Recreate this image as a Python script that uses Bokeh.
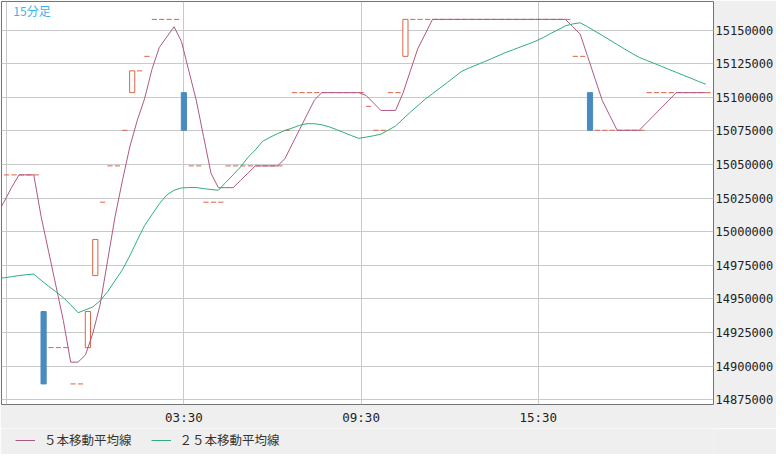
import numpy as np
import pandas as pd
from bokeh.plotting import figure
from bokeh.layouts import column
from bokeh.models import (ColumnDataSource, FixedTicker, Range1d, Legend, LegendItem,
                          Label, BasicTickFormatter)
from bokeh.embed import file_html
from bokeh.resources import INLINE

# ---------------- data (15-minute bars) ----------------
first_bar = "2024-05-20 20:15"

opens = [
    14992300, 14989800, 14995800, 15042300, 15042300,            # warm-up bars (off-screen)
    15042300, 15042300, 15042300, 15042300, 15042300,            # from 21:30
    14940700, 14913800, 14913800, 14913800, 14886800, 14886800,
    14913800, 14967400, 15022000, 15049000, 15049000, 15075500,
    15103500, 15119700, 15130500, 15158000, 15158000, 15158000, 15158000,
    15103500,                                                    # 03:30
    15049000, 15049000, 15022000, 15022000, 15022000,
    15049000, 15049000, 15049000, 15049000, 15049000, 15049000, 15049000, 15049000,
    15075500,
    15103500, 15103500, 15103500, 15103500, 15103500,
    15103500, 15103500, 15103500, 15103500, 15103500,            # .. 09:30
    15093300, 15075500, 15075500, 15103500, 15103500,
    15130500,
    15158000, 15158000, 15158000, 15158000, 15158000, 15158000, 15158000, 15158000,
    15158000, 15158000, 15158000, 15158000, 15158000, 15158000, 15158000, 15158000,
    15158000, 15158000, 15158000, 15158000, 15158000, 15158000,
    15130500, 15130500,
    15103500,
    15075500, 15075500, 15075500, 15075500, 15075500, 15075500, 15075500,
    15103500, 15103500, 15103500, 15103500, 15103500, 15103500, 15103500, 15103500, 15103500,
]

closes = [
    14992300, 14989800, 14995800, 15042300, 15042300,
    15042300, 15042300, 15042300, 15042300, 15042300,
    14886800, 14913800, 14913800, 14913800, 14886800, 14886800,
    14940700, 14994300, 15022000, 15049000, 15049000, 15075500,
    15119700, 15119700, 15130500, 15158000, 15158000, 15158000, 15158000,
    15075500,
    15049000, 15049000, 15022000, 15022000, 15022000,
    15049000, 15049000, 15049000, 15049000, 15049000, 15049000, 15049000, 15049000,
    15075500,
    15103500, 15103500, 15103500, 15103500, 15103500,
    15103500, 15103500, 15103500, 15103500, 15103500,
    15093300, 15075500, 15075500, 15103500, 15103500,
    15158000,
    15158000, 15158000, 15158000, 15158000, 15158000, 15158000, 15158000, 15158000,
    15158000, 15158000, 15158000, 15158000, 15158000, 15158000, 15158000, 15158000,
    15158000, 15158000, 15158000, 15158000, 15158000, 15158000,
    15130500, 15130500,
    15075500,
    15075500, 15075500, 15075500, 15075500, 15075500, 15075500, 15075500,
    15103500, 15103500, 15103500, 15103500, 15103500, 15103500, 15103500, 15103500, 15103500,
]

# 25-bar moving average (NaN for the off-screen warm-up bars)
ma25 = [
    np.nan, np.nan, np.nan, np.nan,
    14965100, 14965800, 14966600, 14967400, 14968100, 14968500,
    14963900, 14959500, 14955400, 14951000, 14945700, 14939800,
    14941900, 14944100, 14948800, 14955400, 14963600, 14971700,
    14982100, 14993500, 15004600, 15012700, 15020800, 15027300, 15030900,
    15032600, 15032900, 15032900, 15032100, 15031400, 15030900,
    15036700, 15042400, 15048200, 15055300, 15060900, 15067300, 15070300, 15073000,
    15075300, 15077200, 15079200, 15080400, 15080400, 15079600, 15078100, 15076000,
    15073800, 15071600, 15069500,
    15070400, 15071400, 15072600, 15075600, 15078700,
    15083900, 15089000, 15093800, 15098600, 15102700, 15106900, 15111100, 15115300,
    15119500, 15122000, 15124200, 15126500, 15128800, 15131200, 15133600, 15135600,
    15137700, 15139700, 15141900, 15144500, 15147500, 15150300, 15153200, 15154600,
    15155500, 15152500, 15149200, 15146000, 15142700, 15139300, 15136000, 15132700,
    15129700, 15127500, 15125300, 15123100, 15120800, 15118600, 15116400, 15114200,
    15111900, 15109800,
]

grid_times = ["21:30", "03:30", "09:30", "15:30"]
tick_labels = ["03:30", "09:30", "15:30"]
price_ticks = [14875000, 14900000, 14925000, 14950000, 14975000, 15000000,
               15025000, 15050000, 15075000, 15100000, 15125000, 15150000]

title_text = "15分足"
ma5_label = "５本移動平均線"
ma25_label = "２５本移動平均線"

# ---------------- styles ----------------
RED = "#dc6446"
BLUE = "#4a8bbf"
PINK = "#ae5787"
GREEN = "#30ad78"
GRID = "#c9c9c9"
PANEL = "#efefef"
MONO = "DejaVu Sans Mono"
JP = "Noto Sans CJK JP"

n = len(closes)
times = pd.date_range(first_bar, periods=n, freq="15min").strftime("%H:%M")
x = np.arange(n, dtype=float)
df = pd.DataFrame({"x": x, "open": opens, "close": closes})
df["x0"] = df["x"] - 0.35
df["x1"] = df["x"] + 0.35
ma5 = df["close"].rolling(5).mean()
line_x = x - 0.33

grid_pos = [int(i) for i in range(n) if times[i] in grid_times]
overrides = {i: (times[i] if times[i] in tick_labels else "") for i in grid_pos}

# ---------------- main chart ----------------
p = figure(width=776, height=428, output_backend="svg", toolbar_location=None,
           x_range=Range1d(4.3, 100.72), y_range=Range1d(14871500, 15171300),
           y_axis_location="right",
           min_border_left=1, min_border_top=1, min_border_right=63, min_border_bottom=24)

p.background_fill_color = "white"
p.border_fill_color = PANEL
p.outline_line_color = "#747474"
p.outline_line_width = 1

p.xgrid.ticker = FixedTicker(ticks=grid_pos)
p.ygrid.ticker = FixedTicker(ticks=price_ticks)
p.grid.grid_line_color = GRID
p.grid.grid_line_width = 1

xa = p.xaxis[0]
xa.ticker = FixedTicker(ticks=grid_pos)
xa.major_label_overrides = overrides
xa.axis_line_color = None
xa.major_tick_line_color = None
xa.minor_tick_line_color = None
xa.major_tick_out = 0
xa.major_tick_in = 0
xa.major_label_standoff = 5
xa.major_label_text_font = MONO
xa.major_label_text_font_size = "12.5px"
xa.major_label_text_color = "#222222"

ya = p.yaxis[0]
ya.ticker = FixedTicker(ticks=price_ticks)
ya.formatter = BasicTickFormatter(use_scientific=False)
ya.axis_line_color = None
ya.major_tick_line_color = None
ya.minor_tick_line_color = None
ya.major_tick_out = 0
ya.major_tick_in = 0
ya.major_label_standoff = 2
ya.major_label_text_font = MONO
ya.major_label_text_font_size = "12px"
ya.major_label_text_color = "#222222"

up = ColumnDataSource(df[df["close"] > df["open"]])
down = ColumnDataSource(df[df["close"] < df["open"]])
flat = ColumnDataSource(df[df["close"] == df["open"]])

p.vbar(x="x", width=0.7, bottom="open", top="close", source=up,
       fill_color="white", line_color=RED, line_width=1)
p.vbar(x="x", width=0.7, bottom="close", top="open", source=down,
       fill_color=BLUE, line_color=BLUE, line_width=1)
p.segment(x0="x0", x1="x1", y0="close", y1="close", source=flat,
          line_color=RED, line_width=1)

p.line(line_x, ma5.values, line_color=PINK, line_width=1)
p.line(line_x, ma25, line_color=GREEN, line_width=1)

p.add_layout(Label(x=5.9, y=15171000, text=title_text, text_baseline="top",
                   text_font=JP, text_font_size="12px", text_color="#3fb3e6"))

# ---------------- legend strip ----------------
lg = figure(width=776, height=26, output_backend="svg", toolbar_location=None,
            x_range=Range1d(0, 1), y_range=Range1d(0, 1),
            min_border=0, x_axis_type=None, y_axis_type=None)
lg.grid.visible = False
lg.outline_line_color = None
lg.background_fill_color = PANEL
lg.border_fill_color = PANEL
# legend keys only (their points lie outside the strip's visible range)
k5 = lg.line(x=[-3, -2], y=[-3, -2], line_color=PINK, line_width=1)
k25 = lg.line(x=[-3, -2], y=[-3, -2], line_color=GREEN, line_width=1)

legend = Legend(items=[LegendItem(label=ma5_label, renderers=[k5]),
                       LegendItem(label=ma25_label, renderers=[k25])],
                orientation="horizontal", location=(14, 5),
                margin=0, padding=0, spacing=19, label_standoff=9,
                glyph_width=20, glyph_height=16,
                label_text_font=JP, label_text_font_size="12.5px",
                label_text_color="#333333",
                background_fill_alpha=0, border_line_alpha=0)
lg.add_layout(legend)

open("out.html", "w").write(file_html(column(p, lg, spacing=0), INLINE))
